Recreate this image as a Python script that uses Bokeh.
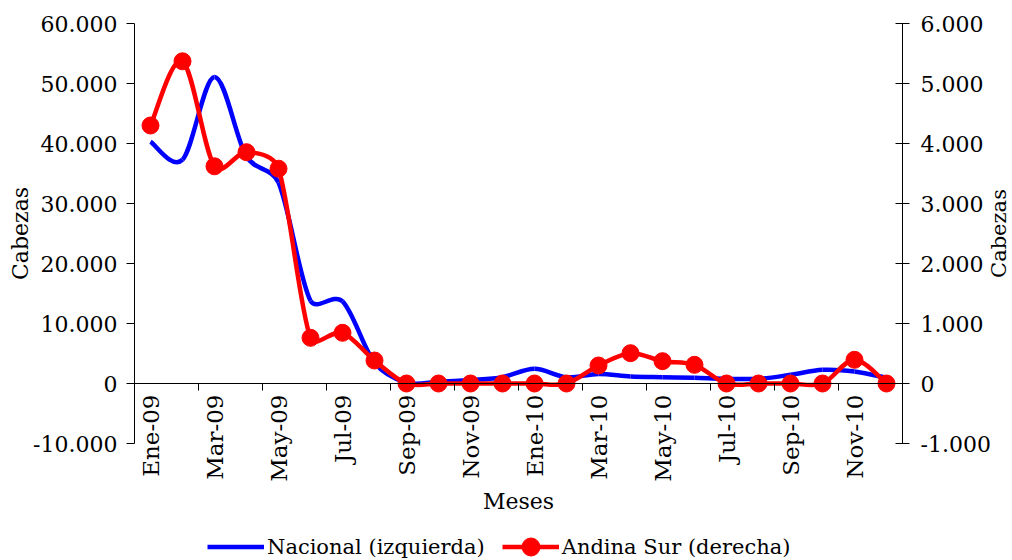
import math
from bokeh.plotting import figure
from bokeh.models import Range1d, LinearAxis, FixedTicker, Legend, LegendItem, Label
from bokeh.embed import file_html
from bokeh.resources import INLINE

# ---------------- data ----------------
meses = ["Ene-09", "Feb-09", "Mar-09", "Abr-09", "May-09", "Jun-09",
         "Jul-09", "Ago-09", "Sep-09", "Oct-09", "Nov-09", "Dic-09",
         "Ene-10", "Feb-10", "Mar-10", "Abr-10", "May-10", "Jun-10",
         "Jul-10", "Ago-10", "Sep-10", "Oct-10", "Nov-10", "Dic-10"]
nacional = [40300, 37300, 51100, 37800, 33500, 13800, 13700, 3500, 150, 300, 600, 1050,
            2450, 1050, 1600, 1170, 1050, 950, 780, 780, 1450, 2280, 2000, 950]
andina_sur = [4300, 5370, 3620, 3855, 3580, 761, 845, 383, 0, 0, 0, 0,
              0, 0, 300, 505, 372, 311, 0, 0, 0, 0, 395, 0]
left_ticks = [-10000, 0, 10000, 20000, 30000, 40000, 50000, 60000]
right_ticks = [-1000, 0, 1000, 2000, 3000, 4000, 5000, 6000]

FONT = "DejaVu Serif"
W, H = 1012, 560
# plot area (pixels) of the chart inside the canvas
PL, PR, PT, PB = 134, 902, 23, 443

def fmt(v):
    return f"{v:,}".replace(",", ".")

n = len(meses)
xs = [i + 0.5 for i in range(n)]

# map the whole canvas to data so that axes and texts are never clipped
xpx = (PR - PL) / n
lmin, lmax = left_ticks[0], left_ticks[-1]
rmin, rmax = right_ticks[0], right_ticks[-1]
lpx = (PB - PT) / (lmax - lmin)
rpx = (PB - PT) / (rmax - rmin)
x_range = Range1d(-PL / xpx, n + (W - PR) / xpx)
y_range = Range1d(lmin - (H - PB) / lpx, lmax + PT / lpx)
r_range = Range1d(rmin - (H - PB) / rpx, rmax + PT / rpx)

# -------- smoothed (Excel-like) bezier segments --------
def smooth(xv, yv, sx, sy, t=1/6.0, k=0.4):
    out = dict(x0=[], y0=[], x1=[], y1=[], cx0=[], cy0=[], cx1=[], cy1=[])
    m = len(xv)
    def d(a, b):
        return math.hypot((xv[b] - xv[a]) * sx, (yv[b] - yv[a]) * sy)
    for i in range(m - 1):
        p0 = i - 1 if i > 0 else i
        p3 = i + 2 if i + 2 < m else i + 1
        d12 = d(i, i + 1)
        d02 = d(p0, i + 1)
        d13 = d(i, p3)
        f1 = min(t, k * d12 / d02) if d02 > 0 else t
        f2 = min(t, k * d12 / d13) if d13 > 0 else t
        out["x0"].append(xv[i]); out["y0"].append(yv[i])
        out["x1"].append(xv[i + 1]); out["y1"].append(yv[i + 1])
        out["cx0"].append(xv[i] + (xv[i + 1] - xv[p0]) * f1)
        out["cy0"].append(yv[i] + (yv[i + 1] - yv[p0]) * f1)
        out["cx1"].append(xv[i + 1] - (xv[p3] - xv[i]) * f2)
        out["cy1"].append(yv[i + 1] - (yv[p3] - yv[i]) * f2)
    return out

p = figure(width=W, height=H, output_backend="svg", toolbar_location=None,
           x_range=x_range, y_range=y_range, min_border=0)
p.extra_y_ranges = {"right": r_range}
p.outline_line_color = None
p.xgrid.visible = False
p.ygrid.visible = False
p.background_fill_color = "white"
p.border_fill_color = "white"

# x axis at y = 0
xa = p.xaxis[0]
xa.fixed_location = 0
xa.bounds = (0, n)
xa.ticker = FixedTicker(ticks=xs[::2], minor_ticks=list(range(0, n + 1, 2)))
xa.major_label_overrides = {xs[i]: meses[i] for i in range(0, n, 2)}
xa.major_label_orientation = math.pi / 2
xa.major_tick_out = 0
xa.major_tick_in = 0
xa.minor_tick_out = 7
xa.minor_tick_in = 0
xa.minor_tick_line_color = "black"
xa.axis_line_color = "black"
xa.major_label_standoff = 4
xa.major_label_text_font = FONT
xa.major_label_text_font_size = "23px"
xa.major_label_text_color = "black"
xa.axis_label = "Meses"
xa.axis_label_text_font = FONT
xa.axis_label_text_font_size = "22px"
xa.axis_label_text_font_style = "normal"
xa.axis_label_text_color = "black"
xa.axis_label_standoff = 4

# left axis (at x = 0)
ya = p.yaxis[0]
ya.fixed_location = 0
ya.bounds = (lmin, lmax)
ya.ticker = FixedTicker(ticks=left_ticks)
ya.major_label_overrides = {v: fmt(v) for v in left_ticks}
ya.major_tick_out = 8
ya.major_tick_in = 0
ya.minor_tick_line_color = None
ya.axis_line_color = "black"
ya.major_label_standoff = 9
ya.major_label_text_font = FONT
ya.major_label_text_font_size = "22px"
ya.major_label_text_color = "black"
ya.axis_label = "Cabezas"
ya.axis_label_text_font = FONT
ya.axis_label_text_font_size = "22px"
ya.axis_label_text_font_style = "normal"
ya.axis_label_text_color = "black"
ya.axis_label_standoff = -3

# right axis (at x = n)
ra = LinearAxis(y_range_name="right", ticker=FixedTicker(ticks=right_ticks),
                fixed_location=n, bounds=(rmin, rmax))
ra.major_label_overrides = {v: fmt(v) for v in right_ticks}
ra.major_tick_out = 7
ra.major_tick_in = 7
ra.minor_tick_line_color = None
ra.axis_line_color = "black"
ra.major_label_standoff = 11
ra.major_label_text_font = FONT
ra.major_label_text_font_size = "22px"
ra.major_label_text_color = "black"
p.add_layout(ra, "right")

p.add_layout(Label(x=998, y=H - (PT + PB) / 2, x_units="screen", y_units="screen",
                   text="Cabezas", angle=math.pi / 2, text_align="center",
                   text_baseline="middle", text_font=FONT, text_font_size="21px",
                   text_color="black"))

# series
bl = smooth(xs, nacional, xpx, lpx)
p.bezier(source=bl, x0="x0", y0="y0", x1="x1", y1="y1", cx0="cx0", cy0="cy0",
         cx1="cx1", cy1="cy1", line_color="#0000FF", line_width=4.5)
rd = smooth(xs, andina_sur, xpx, rpx)
p.bezier(source=rd, x0="x0", y0="y0", x1="x1", y1="y1", cx0="cx0", cy0="cy0",
         cx1="cx1", cy1="cy1", line_color="#FF0000", line_width=4.5, y_range_name="right")
red_pts = p.scatter(xs, andina_sur, size=17, marker="circle", fill_color="#FF0000",
                    line_color="#FF0000", y_range_name="right")

# legend swatches: single-point lines (draw nothing in the plot)
lg_blue = p.line(x=xs[:1], y=nacional[:1], line_color="#0000FF", line_width=4.5)
lg_red = p.line(x=xs[:1], y=andina_sur[:1], line_color="#FF0000", line_width=4.5,
                y_range_name="right")
legend = Legend(items=[LegendItem(label="Nacional (izquierda)", renderers=[lg_blue]),
                       LegendItem(label="Andina Sur (derecha)", renderers=[lg_red, red_pts])],
                location=(207, -9), orientation="horizontal",
                border_line_color=None, background_fill_alpha=0,
                padding=0, margin=0, spacing=17, glyph_width=57, glyph_height=45,
                label_standoff=3, label_text_font=FONT, label_text_font_size="21px",
                label_text_color="black")
p.add_layout(legend, "center")

open("out.html", "w").write(file_html(p, INLINE))
